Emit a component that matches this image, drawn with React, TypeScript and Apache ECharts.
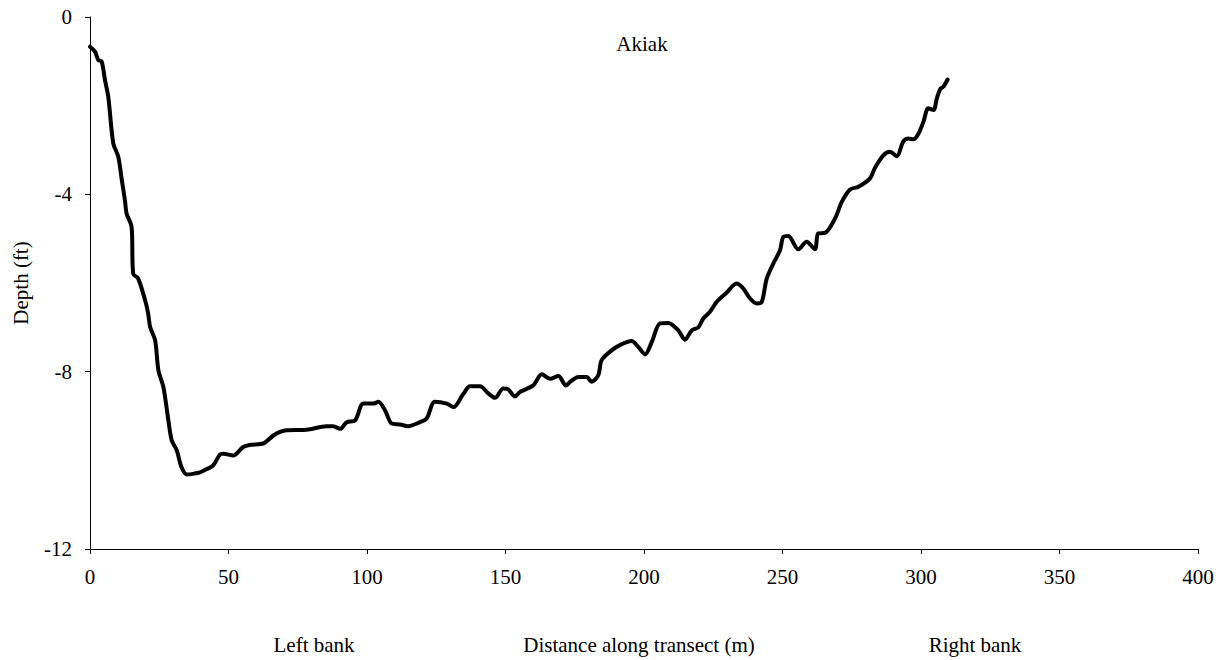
import React, { useEffect, useRef } from "react";
import * as echarts from "echarts";

// Distance along the transect (m)
const distance: number[] = [
  0, 1.8, 3, 4.2, 5.4, 6.6, 8.4, 10.2, 11.4, 12.6, 13.2, 15.0, 15.6, 17.4, 19.9, 21, 21.7,
  23.5, 24.7, 26.5, 28.3, 29.5, 31.3, 33, 35, 37.5, 39.7, 42, 44.4, 46.9, 48.1, 51.7, 55.3,
  58, 62.6, 66.2, 68.6, 71, 78.2, 85.4, 87.8, 90.3, 92.7, 95.7, 98.7, 102.3, 104.1, 106.5,
  108.9, 111.9, 114.9, 119.1, 121.5, 124.5, 128.8, 131.2, 134.8, 137.2, 140.8, 143.8, 146.2,
  149.2, 151, 153.4, 155.2, 160, 163.1, 166.1, 169.1, 171.8, 173.3, 176.3, 179.3, 181.1,
  183.5, 184.7, 188.3, 191.3, 195.5, 197.9, 200.4, 202.8, 205.8, 208.8, 212.4, 214.8, 217.2,
  219.6, 221.4, 223.8, 226.2, 229.8, 233.4, 235.8, 238.3, 240.7, 242.5, 244.3, 246.7, 249.1,
  250.3, 252.1, 255.7, 258.7, 261.7, 262.9, 265.3, 269, 271.4, 274.4, 277.4, 281.6, 283.4,
  286.4, 288.8, 291.2, 293.6, 295.4, 297.3, 299.1, 300.9, 302.6, 304.5, 305.7, 306.9, 308.1,
  309.6,
];

// Depth (ft)
const depth: number[] = [
  -0.67, -0.78, -0.97, -1.0, -1.42, -1.8, -2.85, -3.15, -3.64, -4.13, -4.43, -4.73, -5.79,
  -5.9, -6.39, -6.69, -6.99, -7.29, -7.97, -8.35, -9.1, -9.55, -9.77, -10.15, -10.32, -10.3,
  -10.27, -10.2, -10.12, -9.87, -9.85, -9.89, -9.7, -9.65, -9.62, -9.44, -9.36, -9.32, -9.31,
  -9.23, -9.23, -9.29, -9.14, -9.1, -8.72, -8.72, -8.68, -8.87, -9.17, -9.19, -9.23, -9.14,
  -9.06, -8.68, -8.72, -8.8, -8.5, -8.33, -8.33, -8.49, -8.59, -8.38, -8.4, -8.56, -8.46,
  -8.31, -8.06, -8.16, -8.1, -8.31, -8.23, -8.12, -8.12, -8.23, -8.08, -7.74, -7.52, -7.4,
  -7.31, -7.44, -7.61, -7.33, -6.91, -6.9, -7.07, -7.28, -7.07, -7.0, -6.8, -6.65, -6.43,
  -6.22, -6.01, -6.12, -6.35, -6.46, -6.43, -5.9, -5.56, -5.26, -4.96, -4.94, -5.24, -5.07,
  -5.24, -4.88, -4.87, -4.54, -4.17, -3.89, -3.83, -3.64, -3.4, -3.12, -3.04, -3.14, -2.81,
  -2.74, -2.76, -2.63, -2.36, -2.06, -2.1, -1.84, -1.63, -1.57, -1.41,
];

const FONT = "Liberation Serif";
const FONT_SIZE = 21;

export default function App() {
  const ref = useRef<HTMLDivElement>(null);

  useEffect(() => {
    if (!ref.current) return;
    const chart = echarts.init(ref.current, undefined, { renderer: "svg" });
    const axisText = { color: "#000", fontFamily: FONT, fontSize: FONT_SIZE };
    const label = (text: string, x: number, y: number, rotation = 0) => ({
      type: "text",
      x,
      y,
      rotation,
      style: {
        text,
        fill: "#000",
        fontFamily: FONT,
        fontSize: FONT_SIZE,
        align: "center",
        verticalAlign: "middle",
      },
    });
    chart.setOption({
      animation: false,
      backgroundColor: "#fff",
      grid: { left: 90, right: 28, top: 17, bottom: 111, containLabel: false },
      graphic: [
        label("Akiak", 642, 44),
        label("Depth (ft)", 21, 283, Math.PI / 2),
        label("Left bank", 314, 645),
        label("Distance along transect (m)", 639, 645),
        label("Right bank", 975, 645),
      ],
      xAxis: {
        type: "value",
        min: 0,
        max: 400,
        interval: 50,
        axisLine: { show: true, onZero: false, lineStyle: { color: "#000", width: 1 } },
        axisTick: { show: true, inside: false, length: 5, lineStyle: { color: "#000" } },
        axisLabel: { ...axisText, margin: 17 },
        splitLine: { show: false },
      },
      yAxis: {
        type: "value",
        min: -12,
        max: 0,
        interval: 4,
        axisLine: { show: true, onZero: false, lineStyle: { color: "#000", width: 1 } },
        axisTick: { show: true, inside: false, length: 5, lineStyle: { color: "#000" } },
        axisLabel: { ...axisText, margin: 18 },
        splitLine: { show: false },
      },
      series: [
        {
          type: "line",
          data: distance.map((d, i) => [d, depth[i]]),
          showSymbol: false,
          smooth: 0.3,
          lineStyle: { color: "#000", width: 4, join: "round", cap: "round" },
        },
      ],
    });
    return () => chart.dispose();
  }, []);

  return (
    <div
      ref={ref}
      style={{ position: "fixed", left: 0, top: 0, width: 1226, height: 660, background: "#fff" }}
    />
  );
}
